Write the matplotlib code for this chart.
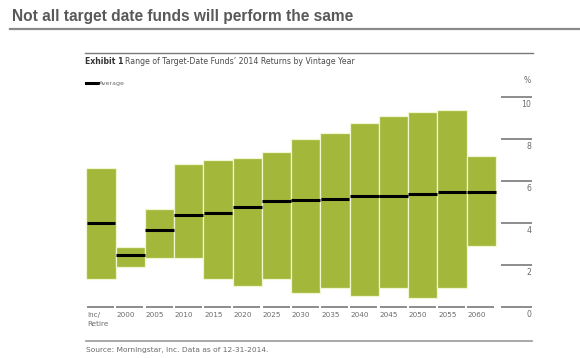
import matplotlib.pyplot as plt
from matplotlib.transforms import blended_transform_factory

# data (percent)
categories = ["Inc/\nRetire", "2000", "2005", "2010", "2015", "2020", "2025",
              "2030", "2035", "2040", "2045", "2050", "2055", "2060"]
high = [6.6, 2.87, 4.68, 6.79, 6.98, 7.08, 7.38, 7.98, 8.27, 8.78, 9.1, 9.29, 9.38, 7.19]
low = [1.33, 1.92, 2.32, 2.32, 1.33, 1.0, 1.33, 0.67, 0.92, 0.52, 0.92, 0.41, 0.92, 2.92]
average = [4.0, 2.48, 3.67, 4.38, 4.48, 4.78, 5.06, 5.08, 5.16, 5.29, 5.29, 5.37, 5.48, 5.48]
y_ticks = [0, 2, 4, 6, 8, 10]

W, H = 580, 358
fig = plt.figure(figsize=(W / 100, H / 100), dpi=100)

# axes placed so that 0..10 maps onto the reference pixel rows
left_px, right_px = 86.3, 495.8
y0_px, y10_px = 307, 97
ax = fig.add_axes([left_px / W, (H - y0_px) / H,
                   (right_px - left_px) / W, (y0_px - y10_px) / H])
ax.set_xlim(-0.5, len(categories) - 0.5)
ax.set_ylim(0, 10)
ax.axis("off")

green = "#a3b83b"
x = list(range(len(categories)))
heights = [h - l for h, l in zip(high, low)]
ax.bar(x, heights, bottom=low, width=1.0, color=green,
       edgecolor="#f1f5d2", linewidth=0.9, clip_on=False)
ax.hlines(average, [i - 0.49 for i in x], [i + 0.49 for i in x],
          color="black", linewidth=2.2, clip_on=False, zorder=3)

grey = "#6b6b6b"
narrow = ["Liberation Sans Narrow", "DejaVu Sans"]
lab_font = dict(family=narrow, color=grey)

# baseline segments + category labels
ax.hlines([0] * len(x), [i - 0.47 for i in x], [i + 0.45 for i in x],
          color="#8c8c8c", linewidth=1.4, clip_on=False)
for i, c in enumerate(categories):
    ax.text(i - 0.47, -0.25, c, ha="left", va="top", fontsize=5.2,
            linespacing=1.6, **lab_font)

# right-hand value scale
tr = blended_transform_factory(ax.transAxes, ax.transData)
ax.hlines(y_ticks, 1.0125, 1.0875, transform=tr, color="#8c8c8c",
          linewidth=1.4, clip_on=False)
for v in y_ticks:
    ax.text(1.0865, v - 0.12, str(v), transform=tr, ha="right", va="top",
            fontsize=5.6, **lab_font)
ax.text(1.0865, 10.55, "%", transform=tr, ha="right", va="bottom",
        fontsize=5.6, **lab_font)

# title block
fig.text(12 / W, 1 - 17 / H, "Not all target date funds will perform the same",
         fontsize=11.2, fontweight="bold", color="#595959", va="center",
         family="Liberation Sans")
fig.add_artist(plt.Line2D([10 / W, 1], [1 - 29 / H] * 2, color="#8a8a8a",
                          linewidth=1.6))

fig.add_artist(plt.Line2D([85 / W, 533 / W], [1 - 52.5 / H] * 2,
                          color="#7a7a7a", linewidth=1.0))
fig.text(85 / W, 1 - 61 / H, "Exhibit 1", fontsize=5.6, fontweight="bold",
         color="#333333", va="center", family=narrow)
fig.text(125 / W, 1 - 61 / H,
         "Range of Target-Date Funds\u2019 2014 Returns by Vintage Year",
         fontsize=5.6, color="#4a4a4a", va="center", family=narrow)

# legend
fig.add_artist(plt.Line2D([86 / W, 98 / W], [1 - 83 / H] * 2, color="black",
                          linewidth=2.2))
fig.text(99 / W, 1 - 83 / H, "Average", fontsize=4.5, color=grey, va="center",
         family=narrow)

# source
fig.add_artist(plt.Line2D([86 / W, 532 / W], [1 - 341 / H] * 2,
                          color="#9a9a9a", linewidth=1.2))
fig.text(86 / W, 1 - 350 / H, "Source: Morningstar, Inc. Data as of 12-31-2014.",
         fontsize=5.4, color=grey, va="center", family=narrow)

fig.savefig("out.png", dpi=100)
